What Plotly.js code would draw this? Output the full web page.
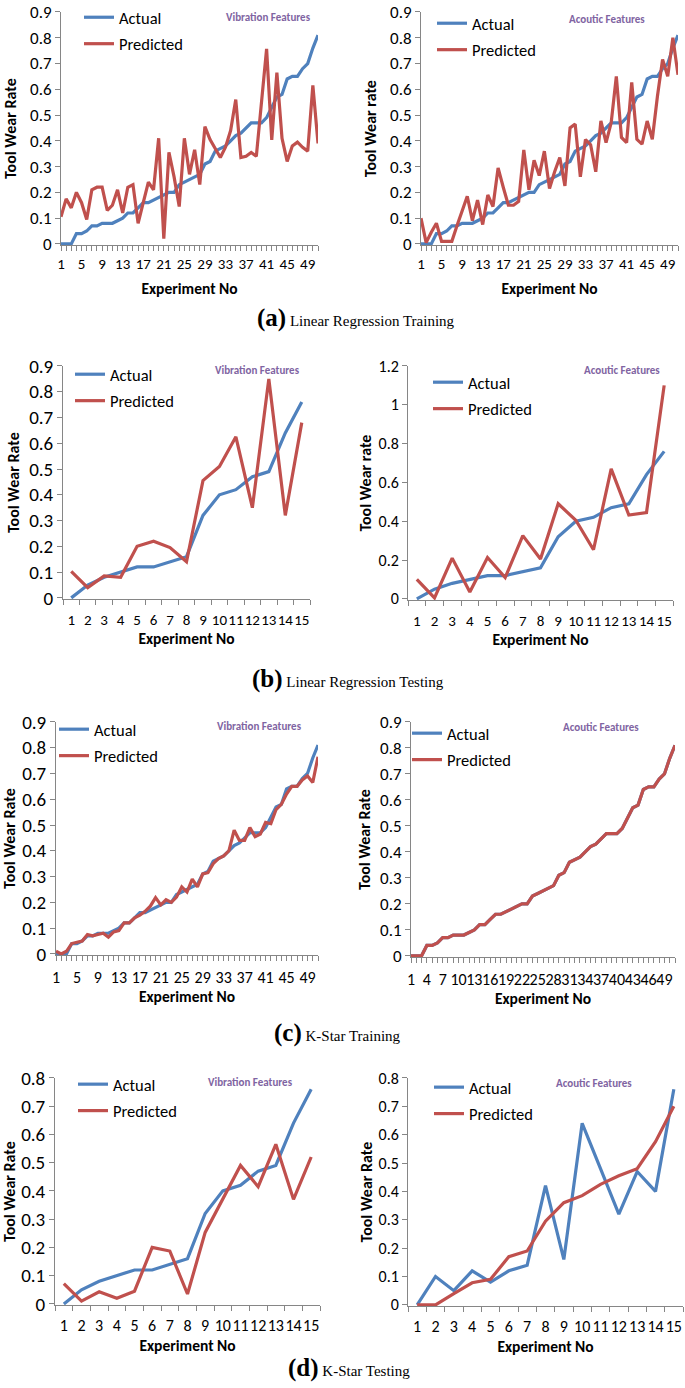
<!DOCTYPE html>
<html>
<head>
<meta charset="utf-8">
<script src="https://cdn.plot.ly/plotly-3.0.1.min.js"></script>
<style>
  html, body { margin: 0; padding: 0; background: #fff; }
  #chart { width: 685px; height: 1388px; }
</style>
</head>
<body>
<div id="chart"></div>
<script>
// ---- data ----
const expTrain = [1,2,3,4,5,6,7,8,9,10,11,12,13,14,15,16,17,18,19,20,21,22,23,24,25,26,
  27,28,29,30,31,32,33,34,35,36,37,38,39,40,41,42,43,44,45,46,47,48,49,50,51];
const expTest = [1,2,3,4,5,6,7,8,9,10,11,12,13,14,15];

const trainTicks = [1,5,9,13,17,21,25,29,33,37,41,45,49];
const trainTicksStep3 = [1,4,7,10,13,16,19,22,25,28,31,34,37,40,43,46,49];

const yTicks09 = [0,0.1,0.2,0.3,0.4,0.5,0.6,0.7,0.8,0.9];
const yTicks08 = [0,0.1,0.2,0.3,0.4,0.5,0.6,0.7,0.8];
const yTicks12 = [0,0.2,0.4,0.6,0.8,1,1.2];

const trainActual = [0,0,0,0.04,0.04,0.05,0.07,0.07,0.08,0.08,0.08,0.09,0.10,0.12,0.12,0.14,
  0.16,0.16,0.17,0.18,0.19,0.20,0.20,0.23,0.24,0.25,0.26,0.27,0.31,0.32,0.36,0.37,0.38,0.40,
  0.42,0.43,0.45,0.47,0.47,0.47,0.49,0.53,0.57,0.58,0.64,0.65,0.65,0.68,0.70,0.76,0.81];

// (a) linear regression training
const lrTrainVib = [0.105,0.175,0.14,0.20,0.16,0.095,0.21,0.22,0.22,0.13,0.15,0.21,0.12,0.22,
  0.23,0.08,0.16,0.24,0.21,0.41,0.02,0.355,0.26,0.145,0.41,0.27,0.365,0.23,0.455,0.405,0.37,
  0.335,0.375,0.44,0.56,0.335,0.34,0.355,0.34,0.55,0.757,0.404,0.665,0.41,0.32,0.38,0.395,
  0.375,0.36,0.615,0.39];
const lrTrainAco = [0.10,0.005,0.045,0.08,0.01,0.01,0.01,0.07,0.13,0.185,0.09,0.17,0.075,0.19,
  0.145,0.295,0.22,0.15,0.15,0.165,0.365,0.21,0.325,0.265,0.36,0.215,0.28,0.335,0.225,0.45,
  0.465,0.26,0.405,0.385,0.28,0.477,0.393,0.47,0.65,0.413,0.393,0.627,0.406,0.387,0.477,
  0.406,0.573,0.716,0.65,0.80,0.656];

// (b) linear regression testing
const testActual = [0,0.05,0.08,0.10,0.12,0.12,0.14,0.16,0.32,0.40,0.42,0.47,0.49,0.64,0.76];
const lrTestVib = [0.103,0.04,0.085,0.08,0.20,0.22,0.195,0.14,0.455,0.51,0.625,0.35,0.85,0.32,0.68];
const lrTestAco = [0.10,0.005,0.21,0.035,0.213,0.11,0.326,0.205,0.49,0.405,0.253,0.67,0.432,0.445,1.10];

// (c) K-Star training
const ksTrainVib = [0.01,0.0,0.01,0.04,0.045,0.05,0.075,0.07,0.075,0.08,0.065,0.085,0.09,0.12,
  0.12,0.14,0.15,0.165,0.185,0.218,0.19,0.21,0.20,0.22,0.26,0.24,0.29,0.26,0.31,0.315,0.35,
  0.37,0.38,0.40,0.48,0.44,0.44,0.49,0.455,0.465,0.51,0.505,0.56,0.58,0.62,0.65,0.65,0.675,
  0.69,0.665,0.765];
const ksTrainAco = [0,0,0,0.04,0.04,0.05,0.07,0.07,0.08,0.08,0.08,0.09,0.10,0.12,0.12,0.14,
  0.16,0.16,0.17,0.18,0.19,0.20,0.20,0.23,0.24,0.25,0.26,0.27,0.31,0.32,0.36,0.37,0.38,0.40,
  0.42,0.43,0.45,0.47,0.47,0.47,0.49,0.53,0.57,0.58,0.64,0.65,0.65,0.68,0.70,0.76,0.81];

// (d) K-Star testing
const ksTestVib = [0.072,0.01,0.043,0.02,0.045,0.20,0.187,0.035,0.253,0.37,0.49,0.415,0.565,0.37,0.52];
const testActualAco = [0,0.10,0.05,0.12,0.08,0.12,0.14,0.42,0.16,0.64,0.48,0.32,0.47,0.40,0.76];
const ksTestAco = [0,0,0.04,0.078,0.09,0.17,0.19,0.295,0.36,0.385,0.425,0.455,0.48,0.575,0.70];

// ---- styling ----
const W = 685, H = 1388;
const BLUE = "#4F81BD", RED = "#C0504D", PURPLE = "#8064A2", AXIS = "#868686";
const FONT = "Carlito, Lato, 'Open Sans', sans-serif";
const SERIF = "'Liberation Serif', 'DejaVu Serif', serif";

function fx(x) { return x / W; }
function fy(y) { return 1 - y / H; }

// panel boxes in pixels: [left, top, right, bottom]; leg = [legend left, legend top]
// yfs/xfs tick font sizes, yst/xst title standoffs, xls tick label standoff
const panels = [
  { box: [61, 8, 318, 242],    ymax: 0.9, yt: yTicks09, kind: "train", ticks: trainTicks,      yfs: 17, xfs: 15, yst: 9,  xst: 10, xls: 0, ytitle: "Tool Wear Rate", feat: "Vibration Features", featAt: [268, 14],   leg: [79, -4],   actual: trainActual, pred: lrTrainVib },
  { box: [421, 8, 678, 242],   ymax: 0.9, yt: yTicks09, kind: "train", ticks: trainTicks,      yfs: 17, xfs: 15, yst: 9,  xst: 10, xls: 0, ytitle: "Tool Wear rate", feat: "Acoutic Features",   featAt: [607, 16],  leg: [432, 2],   actual: trainActual, pred: lrTrainAco },
  { box: [63, 363, 310, 597],  ymax: 0.9, yt: yTicks09, kind: "test",  ticks: expTest,         yfs: 19, xfs: 15, yst: 5,  xst: 3,  xls: 7, ytitle: "Tool Wear Rate", feat: "Vibration Features", featAt: [257, 368], leg: [70, 354],  actual: testActual,  pred: lrTestVib },
  { box: [408, 363, 673, 598], ymax: 1.2, yt: yTicks12, kind: "test",  ticks: expTest,         yfs: 16, xfs: 15, yst: 2,  xst: 3,  xls: 7, ytitle: "Tool Wear rate", feat: "Acoutic Features",   featAt: [622, 368], leg: [428, 362], actual: testActual,  pred: lrTestAco },
  { box: [56, 720, 318, 954],  ymax: 0.9, yt: yTicks09, kind: "train", ticks: trainTicks,      yfs: 19, xfs: 16, yst: 6,  xst: 4,  xls: 3, ytitle: "Tool Wear Rate", feat: "Vibration Features", featAt: [259, 725], leg: [54, 710],  actual: trainActual, pred: ksTrainVib },
  { box: [411, 720, 675, 956], ymax: 0.9, yt: yTicks09, kind: "train", ticks: trainTicksStep3, yfs: 17, xfs: 16, yst: 5,  xst: 4,  xls: 3, ytitle: "Tool Wear Rate", feat: "Acoutic Features",   featAt: [601, 726], leg: [407, 714], actual: trainActual, pred: ksTrainAco },
  { box: [55, 1077, 320, 1305], ymax: 0.8, yt: yTicks08, kind: "test", ticks: expTest,         yfs: 19, xfs: 16, yst: 1,  xst: 5,  xls: 6, ytitle: "Tool Wear Rate", feat: "Vibration Features", featAt: [250, 1082], leg: [73, 1066], actual: testActual,  pred: ksTestVib },
  { box: [408, 1077, 683, 1306], ymax: 0.8, yt: yTicks08, kind: "test", ticks: expTest,        yfs: 16, xfs: 16, yst: 1,  xst: 5,  xls: 6, ytitle: "Tool Wear Rate", feat: "Acoutic Features",   featAt: [594, 1083], leg: [429, 1069], actual: testActualAco, pred: ksTestAco }
];

const captions = [
  { label: "(a)", text: "Linear Regression Training", at: [356, 315] },
  { label: "(b)", text: "Linear Regression Testing",  at: [348, 677] },
  { label: "(c)", text: "K-Star Training",            at: [337, 1032] },
  { label: "(d)", text: "K-Star Testing",             at: [349, 1368] }
];

const traces = [];
const layout = {
  width: W, height: H,
  margin: { l: 0, r: 0, t: 0, b: 0 },
  paper_bgcolor: "#fff", plot_bgcolor: "#fff",
  font: { family: FONT, color: "#000" },
  showlegend: true,
  annotations: []
};

panels.forEach((p, i) => {
  const n = i + 1;
  const sfx = n === 1 ? "" : String(n);
  const xa = "x" + sfx, ya = "y" + sfx;
  const isTrain = p.kind === "train";
  const xs = isTrain ? expTrain : expTest;

  traces.push({
    x: xs, y: p.actual, xaxis: xa, yaxis: ya, name: "Actual",
    type: "scatter", mode: "lines", line: { color: BLUE, width: 3.2 },
    legend: "legend" + sfx, legendgroup: "act" + n
  });
  traces.push({
    x: xs, y: p.pred, xaxis: xa, yaxis: ya, name: "Predicted",
    type: "scatter", mode: "lines", line: { color: RED, width: 3.2 },
    legend: "legend" + sfx, legendgroup: "pred" + n
  });

  const [l, t, r, b] = p.box;
  layout["xaxis" + sfx] = {
    domain: [fx(l), fx(r)], anchor: ya,
    range: isTrain ? [1, 51] : [0.5, 15.5],
    tickmode: "array", tickvals: p.ticks, ticktext: p.ticks.map(String),
    ticks: isTrain ? "outside" : "", ticklen: 5, tickcolor: AXIS, tickangle: 0,
    ticklabelstandoff: p.xls, ticklabeloverflow: "allow",
    minor: isTrain
      ? { tickmode: "linear", tick0: 1, dtick: 1, ticks: "outside", ticklen: 5, tickcolor: AXIS }
      : { tickmode: "linear", tick0: 0.5, dtick: 1, ticks: "outside", ticklen: 5, tickcolor: AXIS },
    showline: true, linecolor: AXIS, linewidth: 1, showgrid: false, zeroline: false,
    tickfont: { size: p.xfs, family: FONT, color: "#000" },
    title: { text: "Experiment No", font: { size: 15.5, family: FONT, weight: "bold" }, standoff: p.xst },
    fixedrange: true
  };
  const pad = p.ymax * 0.006;
  layout["yaxis" + sfx] = {
    domain: [fy(b), fy(t)], anchor: xa,
    range: [-pad, p.ymax + 1e-6],
    tickmode: "array", tickvals: p.yt, ticktext: p.yt.map(String),
    ticks: "outside", ticklen: 5, tickcolor: AXIS, ticklabeloverflow: "allow",
    showline: true, linecolor: AXIS, linewidth: 1, showgrid: false, zeroline: false,
    tickfont: { size: p.yfs, family: FONT, color: "#000" },
    title: { text: p.ytitle, font: { size: 16, family: FONT, weight: "bold" }, standoff: p.yst },
    fixedrange: true
  };
  layout["legend" + sfx] = {
    x: fx(p.leg[0]), y: fy(p.leg[1]), xanchor: "left", yanchor: "top",
    xref: "paper", yref: "paper",
    bgcolor: "rgba(0,0,0,0)", borderwidth: 0,
    font: { size: 16.5, family: FONT, color: "#000" },
    tracegroupgap: 2, itemwidth: 30
  };

  layout.annotations.push({
    xref: "paper", yref: "paper", x: fx(p.featAt[0]), y: fy(p.featAt[1]),
    xanchor: "center", yanchor: "middle", showarrow: false,
    text: p.feat, font: { size: 11, family: FONT, color: PURPLE, weight: "bold" }
  });
});

captions.forEach(c => {
  layout.annotations.push({
    xref: "paper", yref: "paper", x: fx(c.at[0]), y: fy(c.at[1]),
    xanchor: "center", yanchor: "middle", showarrow: false,
    text: "<b><span style='font-size:25px'>" + c.label + "</span></b> " + c.text,
    font: { size: 15, family: SERIF, color: "#000" }
  });
});

Plotly.newPlot("chart", traces, layout, { staticPlot: true, displayModeBar: false });
</script>
</body>
</html>
